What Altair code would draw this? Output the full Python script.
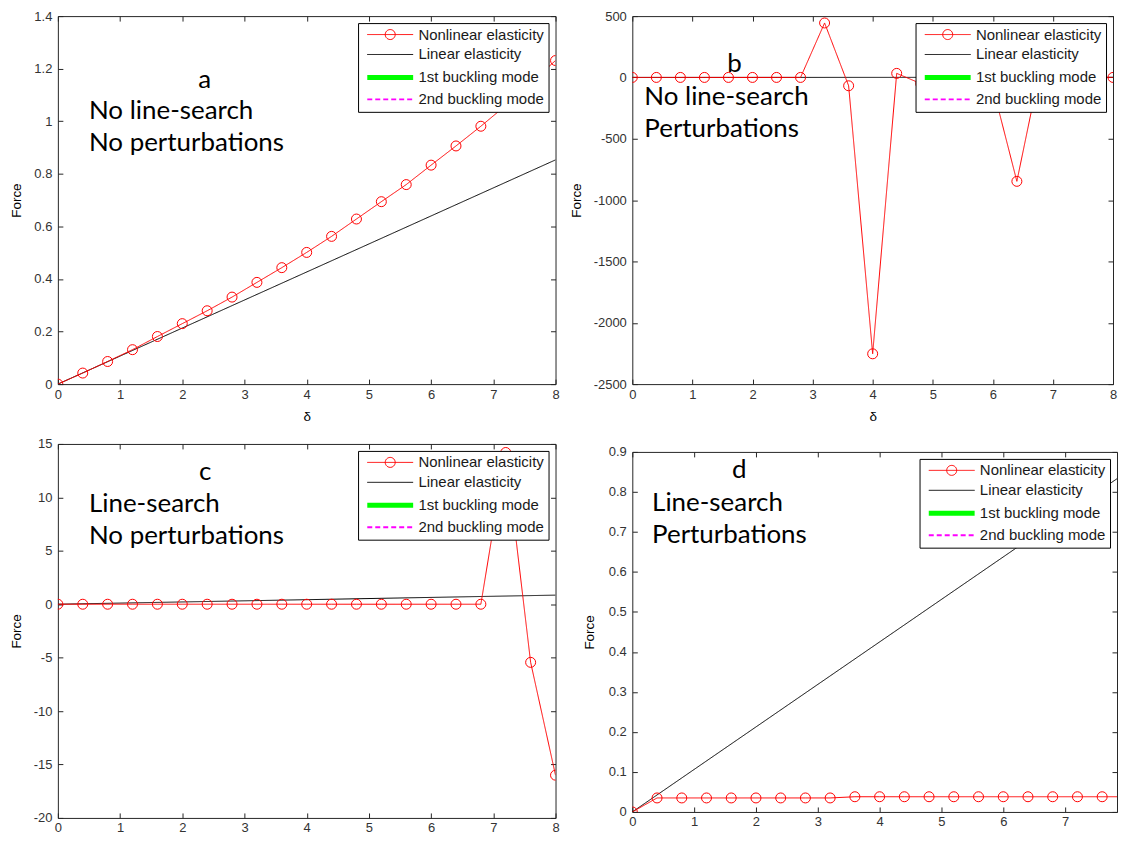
import altair as alt
import pandas as pd

# ---------------- data ----------------
series_names = ["Nonlinear elasticity", "Linear elasticity", "1st buckling mode", "2nd buckling mode"]
series_colors = ["#ff0000", "#000000", "#00ff00", "#ff00ff"]
series_widths = [1, 1, 5, 2]
series_dashes = [[1, 0], [1, 0], [1, 0], [5, 3]]

delta = [0.0, 0.4, 0.8, 1.2, 1.6, 2.0, 2.4, 2.8, 3.2, 3.6, 4.0,
         4.4, 4.8, 5.2, 5.6, 6.0, 6.4, 6.8, 7.2, 7.6, 8.0]
linear_delta = [0.0, 8.0]

force_a = [0.0, 0.042, 0.086, 0.131, 0.181, 0.230, 0.279, 0.331, 0.387, 0.443, 0.501,
           0.562, 0.628, 0.694, 0.759, 0.833, 0.906, 0.981, 1.06, 1.145, 1.231]
force_b = [0, 0, 0, 0, 0, 0, 0, 0, 444, -68, -2253,
           33, -50, 10, -20, -80, -847, 100, 20, 0, 0]
force_c = [0, 0, 0, 0, 0, 0, 0, 0, 0, 0, 0,
           0, 0, 0, 0, 0, 0, 0, 14.2, -5.44, -16.0]
force_d = [0.0, 0.035, 0.035, 0.035, 0.035, 0.035, 0.035, 0.035, 0.035, 0.038, 0.038,
           0.038, 0.038, 0.038, 0.038, 0.038, 0.038, 0.038, 0.038, 0.038, 0.038]

linear_a = [0.0, 0.853]
linear_b = [0.0, 0.85]
linear_c = [0.0, 0.85]
linear_d = [0.0, 0.85]

ticks_x = [0, 1, 2, 3, 4, 5, 6, 7, 8]
ticks_x_d = [0, 1, 2, 3, 4, 5, 6, 7]
ticks_a = [0, 0.2, 0.4, 0.6, 0.8, 1, 1.2, 1.4]
ticks_b = [-2500, -2000, -1500, -1000, -500, 0, 500]
ticks_c = [-20, -15, -10, -5, 0, 5, 10, 15]
ticks_d = [0, 0.1, 0.2, 0.3, 0.4, 0.5, 0.6, 0.7, 0.8, 0.9]

# annotation texts (anchor in data coordinates)
notes = {
    "a": ("a", (2.36, 1.157), ["No line-search", "No perturbations"], (0.5, [1.039, 0.918])),
    "b": ("b", (1.70, 107), ["No line-search", "Perturbations"], (0.2, [-156, -418])),
    "c": ("c", (2.37, 12.39), ["Line-search", "No perturbations"], (0.5, [9.40, 6.41])),
    "d": ("d", (1.73, 0.855), ["Line-search", "Perturbations"], (0.32, [0.773, 0.693])),
}

# legend symbols (custom paths, unit = sqrt(symbolSize)/2 px)
L = 7.667
R = 1.667
line_path = f"M-{L},0H{L}"
circle_path = f"M-{L},0H{L}M{R},0A{R},{R} 0 1 1 -{R},0A{R},{R} 0 1 1 {R},0"
legend_shapes = [circle_path, line_path, line_path, line_path]

AX = "#262626"
TEXT_FONT = "Lato"


def make_panel(key, nonlin, lin, x_domain, x_ticks, y_domain, y_ticks, width, height, x_title, ytp):
    rows = []
    for xv, yv in zip(linear_delta, lin):
        rows.append({"series": series_names[1], "x": xv, "y": yv})
    for xv, yv in zip(delta, nonlin):
        rows.append({"series": series_names[0], "x": xv, "y": yv})
    df = pd.DataFrame(rows)
    df_nl = df[df["series"] == series_names[0]]

    xaxis = alt.Axis(values=x_ticks, title=x_title, labelExpr="toString(datum.value)",
                     grid=True, gridDash=[5, height - 10], gridColor=AX, gridOpacity=1, gridWidth=1,
                     ticks=False, domain=False, labelPadding=4, labelFlush=False, titlePadding=8,
                     labelOverlap=False)
    yaxis = alt.Axis(values=y_ticks, title="Force", labelExpr="toString(datum.value)",
                     grid=True, gridDash=[5, width - 10], gridColor=AX, gridOpacity=1, gridWidth=1,
                     ticks=False, domain=False, labelPadding=6, labelFlush=False, titlePadding=ytp,
                     labelOverlap=False)
    X = alt.X("x:Q", scale=alt.Scale(domain=x_domain, nice=False, zero=False), axis=xaxis)
    Y = alt.Y("y:Q", scale=alt.Scale(domain=y_domain, nice=False, zero=False), axis=yaxis)
    leg = alt.Legend(title=None)
    color = alt.Color("series:N", scale=alt.Scale(domain=series_names, range=series_colors), legend=leg)
    swidth = alt.StrokeWidth("series:N", scale=alt.Scale(type="ordinal", domain=series_names, range=series_widths), legend=leg)
    sdash = alt.StrokeDash("series:N", scale=alt.Scale(domain=series_names, range=series_dashes), legend=leg)
    shape = alt.Shape("series:N", scale=alt.Scale(domain=series_names, range=legend_shapes), legend=leg)

    lines = alt.Chart(df).mark_line(clip=True).encode(x=X, y=Y, color=color, strokeWidth=swidth, strokeDash=sdash)
    points = alt.Chart(df_nl).mark_point(shape="circle", filled=False, size=100, strokeWidth=1,
                                         opacity=1, clip=True).encode(x=X, y=Y, color=color)
    legend_layer = alt.Chart(df).transform_filter("false").mark_point(filled=False, opacity=1).encode(
        x=X, y=Y, color=color, shape=shape, strokeWidth=swidth, strokeDash=sdash)

    letter, (lx, ly), texts, (tx, tys) = notes[key]
    df_letter = pd.DataFrame({"x": [lx], "y": [ly], "t": [letter]})
    df_texts = pd.DataFrame({"x": [tx] * len(texts), "y": tys, "t": texts})
    t1 = alt.Chart(df_letter).mark_text(font=TEXT_FONT, fontSize=26, align="center", baseline="middle",
                                        color="black").encode(x=X, y=Y, text="t:N")
    t2 = alt.Chart(df_texts).mark_text(font=TEXT_FONT, fontSize=26, align="left", baseline="middle",
                                       color="black").encode(x=X, y=Y, text="t:N")
    return alt.layer(lines, points, legend_layer, t1, t2).properties(width=width, height=height)


pa = make_panel("a", force_a, linear_a, [0, 8], ticks_x, [0, 1.4], ticks_a, 499, 369, "δ", 10)
pb = make_panel("b", force_b, linear_b, [0, 8], ticks_x, [-2500, 500], ticks_b, 482, 369, "δ", 10)
pc = make_panel("c", force_c, linear_c, [0, 8], ticks_x, [-20, 15], ticks_c, 499, 375, None, 10)
pdd = make_panel("d", force_d, linear_d, [0, 7.84], ticks_x_d, [0, 0.9], ticks_d, 486, 361, None, 12)

ind = dict(color="independent", shape="independent", strokeWidth="independent", strokeDash="independent")


def res(c):
    return c.resolve_scale(**ind).resolve_legend(**ind)


col1 = res(alt.vconcat(pa, pc, spacing=60, bounds="flush"))
col2 = res(alt.vconcat(pb, pdd, spacing=68, bounds="flush"))
chart = res(alt.hconcat(col1, col2, spacing=8)).properties(padding=0)

chart = chart.configure_view(stroke=AX, strokeWidth=1).configure_axis(
    labelFont="Liberation Sans", labelFontSize=13, labelColor="#333333",
    titleFont="Liberation Sans", titleFontSize=13.5, titleFontWeight="normal", titleColor="#000000",
).configure_legend(
    orient="top-right", offset=7, fillColor="white", strokeColor="#000000", padding=4,
    labelFont="Liberation Sans", labelFontSize=15, labelColor="#1a1a1a",
    symbolSize=36, symbolOffset=20.75, labelOffset=20.75, rowPadding=4, cornerRadius=0,
)

chart.save("out.html", embed_options={"renderer": "svg", "actions": False})
